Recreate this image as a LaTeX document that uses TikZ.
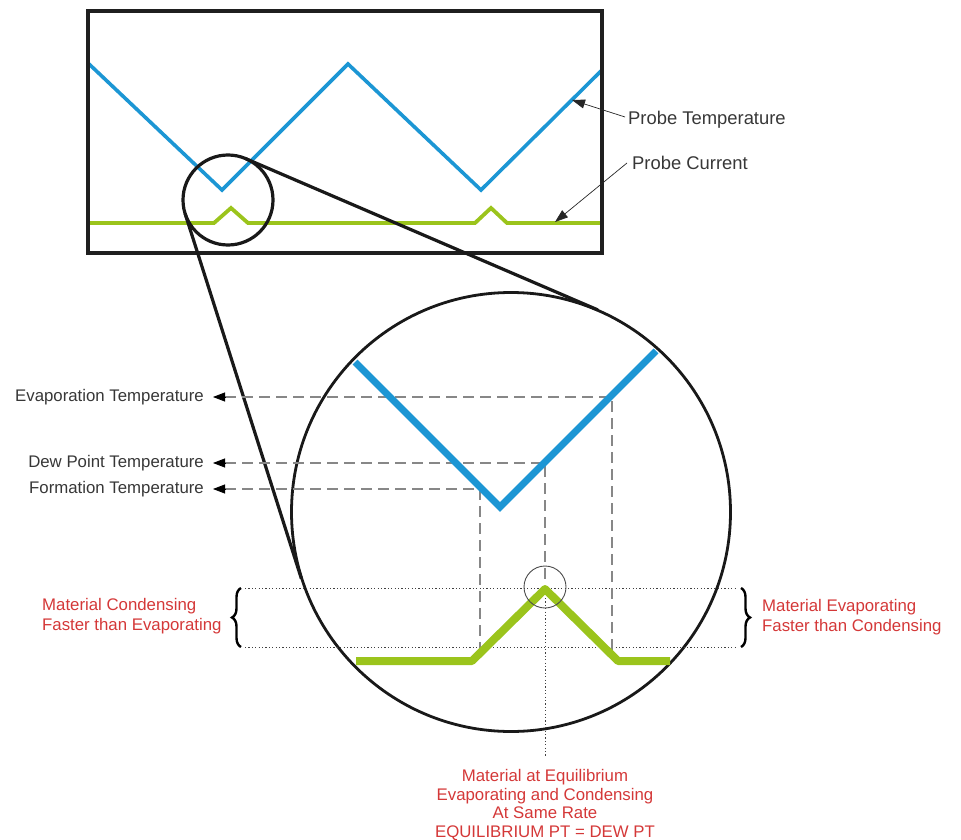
\documentclass[tikz,border=0pt]{standalone}
\usepackage{fontspec}
\setmainfont{Liberation Sans}
\usetikzlibrary{arrows.meta,decorations.pathreplacing}
\definecolor{probeblue}{RGB}{28,150,212}
\definecolor{probegreen}{RGB}{155,196,28}
\definecolor{labelred}{RGB}{212,56,56}
\definecolor{labelgray}{RGB}{55,55,55}
\definecolor{dashgray}{RGB}{135,135,135}
\begin{document}
\begin{tikzpicture}[x=1pt,y=-1pt,
  frame/.style={line width=3.2pt,draw=black!88},
  lens/.style={line width=3.2pt,draw=black!90},
  biglens/.style={line width=2.8pt,draw=black!90},
  bluethin/.style={line width=3.6pt,draw=probeblue,line join=miter},
  greenthin/.style={line width=3.8pt,draw=probegreen,line join=miter},
  bluethick/.style={line width=7pt,draw=probeblue,line join=miter},
  greenthick/.style={line width=8pt,draw=probegreen,line join=round},
  dashline/.style={draw=dashgray,line width=1.3pt,dash pattern=on 11pt off 6pt},
  dotline/.style={draw=black!75,line width=0.9pt,dash pattern=on 1.2pt off 2.2pt},
  tipline/.style={draw=black,line width=0.8pt,-{Triangle[length=12pt,width=9pt]}},
  callout/.style={draw=black!85,line width=0.7pt,-{Triangle[length=13pt,width=9pt]}},
  bracestyle/.style={draw=black,line width=2.4pt,decorate,decoration={brace,amplitude=9pt}},
  lbl/.style={inner sep=0pt,text=labelgray,font=\fontsize{16.8}{20}\selectfont},
  biglbl/.style={inner sep=0pt,text=labelgray,font=\fontsize{18.4}{21}\selectfont},
  redlbl/.style={inner sep=0pt,text=labelred,font=\fontsize{16.8}{20}\selectfont}
]
\useasboundingbox (0,0) rectangle (961,840);

% ---------- top chart ----------
\draw[bluethin] (89,64) -- (222,190) -- (348,64) -- (481,190) -- (601,71);
\draw[greenthin] (89,223) -- (214,223) -- (231,208) -- (248,223) -- (475,223) -- (491,208) -- (507,223) -- (601,223);
\draw[frame] (88,11) rectangle (602,253);

% ---------- lens ----------
\coordinate (small) at (228,200);
\coordinate (big) at (511,512);
\draw[lens] (small) circle[radius=45pt];
\coordinate (tA1) at (245.8,158.7);
\coordinate (tA2) at (597.8,309.9);
\coordinate (tB1) at (185.1,213.6);
\coordinate (tB2) at (301.4,578.7);
\draw[lens] (tA1) -- (tA2);
\draw[lens] (tB1) -- (tB2);
\draw[biglens] (big) circle[radius=219.5pt];

% ---------- probe labels ----------
\node[biglbl,anchor=west] (ptemp) at (628,120) {Probe Temperature};
\node[biglbl,anchor=west] (pcur) at (632,163) {Probe Current};
\coordinate (ptempTip) at (572,100);
\coordinate (pcurTip) at (555,222);
\draw[callout] ([xshift=-3pt,yshift=3pt]ptemp.west) -- (ptempTip);
\draw[callout] ([xshift=-5pt]pcur.west) -- (pcurTip);

% ---------- dotted level lines ----------
\coordinate (dTopL) at (245,588);
\coordinate (dTopR) at (737,588);
\coordinate (dBotL) at (245,647);
\coordinate (dBotR) at (737,647);
\draw[dotline] (dTopL) -- (dTopR);
\draw[dotline] (dBotL) -- (dBotR);

% ---------- temperature labels ----------
\node[lbl,anchor=east] (evap) at (204,397) {Evaporation Temperature};
\node[lbl,anchor=east] (dew) at (204,463) {Dew Point Temperature};
\node[lbl,anchor=east] (form) at (204,489) {Formation Temperature};

\coordinate (evapTip) at (213,397);
\coordinate (evapC) at (612,397);
\coordinate (evapF) at (612,653);
\coordinate (dewTip) at (213,463);
\coordinate (dewC) at (545,463);
\coordinate (dewF) at (545,584);
\coordinate (formTip) at (213,489);
\coordinate (formC) at (480,489);
\coordinate (formF) at (480,653);

\draw[dashline] ([xshift=12pt]evapTip) -- (evapC) -- (evapF);
\draw[dashline] ([xshift=12pt]dewTip) -- (dewC) -- (dewF);
\draw[dashline] ([xshift=12pt]formTip) -- (formC) -- (formF);
\draw[tipline] ([xshift=12pt]evapTip) -- (evapTip);
\draw[tipline] ([xshift=12pt]dewTip) -- (dewTip);
\draw[tipline] ([xshift=12pt]formTip) -- (formTip);

% ---------- zoomed curves ----------
\draw[bluethick] (355,362) -- (500,507) -- (656,351);
\draw[greenthick] (356,661) -- (472,661) -- (545,589) -- (618,661) -- (670,661);

% equilibrium marker
\coordinate (eqpt) at (545,587);
\draw[draw=black!70,line width=0.9pt] (eqpt) circle[radius=21pt];
\coordinate (eqTop) at (545,598);
\coordinate (eqBot) at (545,757);
\draw[dotline] (eqTop) -- (eqBot);

% ---------- braces ----------
\coordinate (bLb) at (241,647);
\coordinate (bLt) at (241,588);
\coordinate (bRt) at (741,588);
\coordinate (bRb) at (741,647);
\draw[bracestyle] (bLb) -- (bLt);
\draw[bracestyle] (bRt) -- (bRb);

% ---------- red labels ----------
\node[redlbl,anchor=west,align=left] (cond) at (42,616) {Material Condensing\\Faster than Evaporating};
\node[redlbl,anchor=west,align=left] (evapr) at (762,617) {Material Evaporating\\Faster than Condensing};
\node[redlbl,align=center,font=\fontsize{16.8}{18.8}\selectfont] (equil) at (545,805) {Material at Equilibrium\\Evaporating and Condensing\\At Same Rate\\EQUILIBRIUM PT = DEW PT};
\end{tikzpicture}
\end{document}
